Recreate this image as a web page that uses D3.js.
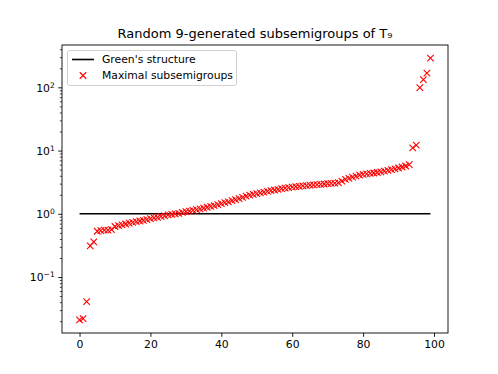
<!DOCTYPE html>
<html>
<head>
<meta charset="utf-8">
<script src="https://cdnjs.cloudflare.com/ajax/libs/d3/7.8.5/d3.min.js"></script>
<style>
  body { margin: 0; background: #fff; }
  svg { font-family: "DejaVu Sans", sans-serif; }
</style>
</head>
<body>
<svg id="drawing_region"></svg>
<script>
// subsemigroup index (sorted)
const indices = d3.range(100);

// ratio values, sorted ascending
const maximal = [
  0.021, 0.022, 0.041, 0.31, 0.36, 0.53, 0.54, 0.55, 0.55, 0.56,
  0.63, 0.65, 0.67, 0.69, 0.71, 0.73, 0.75, 0.77, 0.79, 0.81,
  0.84, 0.86, 0.88, 0.91, 0.93, 0.96, 0.98, 1.00, 1.02, 1.05,
  1.08, 1.10, 1.13, 1.16, 1.20, 1.23, 1.27, 1.31, 1.35, 1.40,
  1.45, 1.50, 1.55, 1.61, 1.67, 1.74, 1.82, 1.90, 1.97, 2.03,
  2.09, 2.15, 2.20, 2.26, 2.32, 2.38, 2.44, 2.50, 2.55, 2.60,
  2.64, 2.68, 2.72, 2.76, 2.80, 2.84, 2.87, 2.90, 2.93, 2.96,
  2.99, 3.02, 3.06, 3.12, 3.30, 3.50, 3.62, 3.80, 3.95, 4.10,
  4.20, 4.28, 4.35, 4.42, 4.50, 4.60, 4.72, 4.85, 5.00, 5.15,
  5.30, 5.50, 5.70, 6.00, 11.0, 12.2, 99, 132, 168, 290
];

// Green's structure baseline
const greens = indices.map(() => 1);

const xticks = [0, 20, 40, 60, 80, 100];
const yticks = [0.1, 1, 10, 100];
const yexponents = ["−1", "0", "1", "2"];

const title_text = "Random 9-generated subsemigroups of T₉";
const legend_labels = ["Green's structure", "Maximal subsemigroups"];

class LogScatter {

    constructor( config ) {
        this.config = config;
        this.init();
    }

    init() {
        let self = this;

        self.svg = d3.select( self.config.parent )
            .attr('width', self.config.width)
            .attr('height', self.config.height);

        self.chart = self.svg.append('g')
            .attr('transform', `translate(${self.config.margin.left}, ${self.config.margin.top})`);

        self.inner_width = self.config.width - self.config.margin.left - self.config.margin.right;
        self.inner_height = self.config.height - self.config.margin.top - self.config.margin.bottom;

        // matplotlib style 5% padding
        const xpad = (d3.max(indices) - d3.min(indices)) * 0.05;
        self.xscale = d3.scaleLinear()
            .domain([d3.min(indices) - xpad, d3.max(indices) + xpad])
            .range([0, self.inner_width]);

        const lo = Math.log10(d3.min(maximal));
        const hi = Math.log10(d3.max(maximal));
        const ypad = (hi - lo) * 0.05;
        self.yscale = d3.scaleLog()
            .domain([Math.pow(10, lo - ypad), Math.pow(10, hi + ypad)])
            .range([self.inner_height, 0]);
    }

    render() {
        let self = this;
        const fs = 10.8;

        // green's line
        const line = d3.line()
            .x( (d, i) => self.xscale(indices[i]) )
            .y( d => self.yscale(d) );

        self.chart.append('path')
            .attr('d', line(greens))
            .attr('stroke', 'black')
            .attr('stroke-width', 1.6)
            .attr('fill', 'none');

        // x markers
        const s = 3.25;
        self.chart.selectAll('.marker')
            .data(maximal)
            .enter()
            .append('path')
            .attr('class', 'marker')
            .attr('transform', (d, i) => `translate(${self.xscale(indices[i])}, ${self.yscale(d)})`)
            .attr('d', `M${-s},${-s}L${s},${s}M${-s},${s}L${s},${-s}`)
            .attr('stroke', 'red')
            .attr('stroke-width', 1.1)
            .attr('fill', 'none');

        // frame
        self.chart.append('rect')
            .attr('width', self.inner_width)
            .attr('height', self.inner_height)
            .attr('fill', 'none')
            .attr('stroke', 'black')
            .attr('stroke-width', 0.9);

        // x axis
        const xaxis = d3.axisBottom( self.xscale )
            .tickValues(xticks)
            .tickSize(3.8)
            .tickPadding(3.5)
            .tickFormat(d3.format('d'));

        const xg = self.chart.append('g')
            .attr('transform', `translate(0, ${self.inner_height})`)
            .call( xaxis );
        xg.select('.domain').remove();
        xg.selectAll('text').attr('font-size', fs).attr('font-family', 'DejaVu Sans').attr('fill', 'black');
        xg.selectAll('line').attr('stroke-width', 0.9);

        // y axis minor ticks
        const [d0, d1] = self.yscale.domain();
        const minor = [];
        for (let k = Math.floor(Math.log10(d0)); k <= Math.ceil(Math.log10(d1)); k++) {
            for (let m = 2; m <= 9; m++) {
                const v = m * Math.pow(10, k);
                if (v >= d0 && v <= d1) minor.push(v);
            }
        }
        const yminor = d3.axisLeft( self.yscale )
            .tickValues(minor)
            .tickSize(2.2)
            .tickFormat('');
        const ymg = self.chart.append('g').call( yminor );
        ymg.select('.domain').remove();
        ymg.selectAll('line').attr('stroke-width', 0.7);

        // y axis major ticks
        const yaxis = d3.axisLeft( self.yscale )
            .tickValues(yticks)
            .tickSize(3.8)
            .tickPadding(3.5)
            .tickFormat('');
        const yg = self.chart.append('g').call( yaxis );
        yg.select('.domain').remove();
        yg.selectAll('line').attr('stroke-width', 0.9);

        yg.selectAll('.tick').each(function(d, i) {
            const t = d3.select(this).select('text')
                .attr('font-size', fs)
                .attr('font-family', 'DejaVu Sans')
                .attr('fill', 'black')
                .attr('dy', '0.36em');
            t.append('tspan').text('10');
            t.append('tspan')
                .attr('font-size', fs * 0.7)
                .attr('dy', '-0.55em')
                .text(yexponents[i]);
        });

        // title
        self.svg.append('text')
            .attr('x', self.config.margin.left + self.inner_width / 2)
            .attr('y', self.config.margin.top - 7)
            .attr('text-anchor', 'middle')
            .attr('font-size', 13)
            .attr('fill', 'black')
            .text(title_text);

        // legend
        const lg = self.chart.append('g')
            .attr('transform', 'translate(5.5, 5.5)');
        lg.append('rect')
            .attr('width', 169)
            .attr('height', 35)
            .attr('rx', 2.5)
            .attr('fill', 'white')
            .attr('fill-opacity', 0.8)
            .attr('stroke', '#cccccc')
            .attr('stroke-width', 0.9);
        lg.append('line')
            .attr('x1', 4.5).attr('x2', 26.5)
            .attr('y1', 9).attr('y2', 9)
            .attr('stroke', 'black')
            .attr('stroke-width', 1.6);
        lg.append('path')
            .attr('transform', 'translate(15.5, 25)')
            .attr('d', `M${-s},${-s}L${s},${s}M${-s},${s}L${s},${-s}`)
            .attr('stroke', 'red')
            .attr('stroke-width', 1.1)
            .attr('fill', 'none');
        lg.selectAll('.label')
            .data(legend_labels)
            .enter()
            .append('text')
            .attr('class', 'label')
            .attr('x', 34.5)
            .attr('y', (d, i) => 9 + i * 16)
            .attr('dy', '0.36em')
            .attr('font-size', fs)
            .attr('fill', 'black')
            .text(d => d);
    }
}

const config = {
    parent: '#drawing_region',
    width: 498,
    height: 374,
    margin: {top: 45, right: 50, bottom: 41, left: 62}
};

const chart = new LogScatter( config );
chart.render();
</script>
</body>
</html>
